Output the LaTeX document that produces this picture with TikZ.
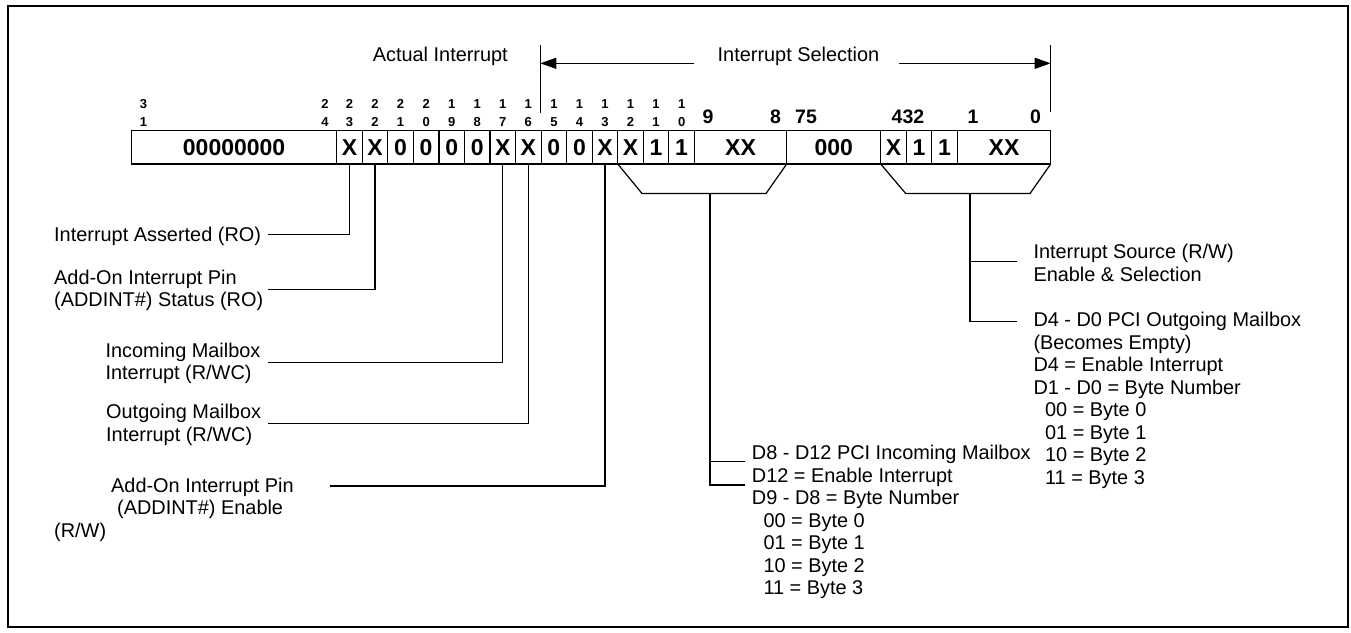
\documentclass[tikz,border=0pt]{standalone}
\usepackage{fontspec}
\setmainfont{Liberation Sans}
\usetikzlibrary{arrows.meta}
\begin{document}
\begin{tikzpicture}[x=1pt,y=-1pt,
  cellbox/.style={draw, line width=1.2pt, minimum height=33.3pt, inner sep=0pt, outer sep=0pt, anchor=west, font=\fontsize{23}{26}\selectfont\bfseries},
  bitnum/.style={font=\fontsize{13}{14}\selectfont\bfseries, inner sep=0pt, anchor=base},
  biglbl/.style={font=\fontsize{19.5}{21}\selectfont\bfseries, inner sep=0pt, anchor=base},
  lbl/.style={font=\fontsize{19.9}{22.5}\selectfont, inner sep=0pt, align=left, anchor=north west},
  toplbl/.style={font=\fontsize{19.9}{22.5}\selectfont, inner sep=0pt},
  conn/.style={line width=1.2pt},
  tip/.style={-{Triangle[length=16pt,width=11pt]}, line width=1.2pt}
]
\useasboundingbox (0,0) rectangle (1351,632);
\draw[line width=2.2pt] (8.3,5.7) rectangle (1348.3,627);

% register cells
\node[cellbox, minimum width=205.2pt] (c31) at (131.5,147.35) {00000000};
\foreach \b/\v [count=\i from 0] in {23/X,22/X,21/0,20/0,19/0,18/0,17/X,16/X,15/0,14/0,13/X,12/X,11/1,10/1}{
  \node[cellbox, minimum width=25.55pt] (c\b) at ({336.7+\i*25.55},147.35) {\v};
}
\node[cellbox, minimum width=92.3pt] (c98) at (694.4,147.35) {XX};
\node[cellbox, minimum width=94pt] (c75) at (786.7,147.35) {000};
\node[cellbox, minimum width=25.55pt] (c4) at (880.7,147.35) {X};
\node[cellbox, minimum width=25.55pt] (c3) at (906.25,147.35) {1};
\node[cellbox, minimum width=25.55pt] (c2) at (931.8,147.35) {1};
\node[cellbox, minimum width=93.35pt] (c10) at (957.35,147.35) {XX};

% bit numbers
\node[bitnum] (h31) at (143.5,108.3) {3};
\node[bitnum] (l31) at (143.5,126) {1};
\node[bitnum] (h24) at (325,108.3) {2};
\node[bitnum] (l24) at (325,126) {4};
\foreach \t/\u [count=\i from 0] in {2/3,2/2,2/1,2/0,1/9,1/8,1/7,1/6,1/5,1/4,1/3,1/2,1/1,1/0}{
  \node[bitnum] (h\i) at ({336.7+(\i+0.5)*25.55},108.3) {\t};
  \node[bitnum] (l\i) at ({336.7+(\i+0.5)*25.55},126) {\u};
}
\node[biglbl] (n9) at (708,123) {9};
\node[biglbl] (n8) at (775.5,123) {8};
\node[biglbl] (n75) at (806,123) {75};
\node[biglbl] (n432) at (908,123) {432};
\node[biglbl] (n1) at (973,123) {1};
\node[biglbl] (n0) at (1035.5,123) {0};

% top labels and arrows
\coordinate (vl1) at (540.3,45);
\coordinate (vl2) at (540.3,113);
\coordinate (vr1) at (1050.7,45);
\coordinate (vr2) at (1050.7,112);
\draw[conn] (vl1) -- (vl2);
\draw[conn] (vr1) -- (vr2);
\node[toplbl, anchor=base east] (actual) at (508,61.5) {Actual Interrupt};
\node[toplbl, anchor=base west] (isel) at (717.5,61.5) {Interrupt Selection};
\coordinate (al) at (694,63.3);
\coordinate (alt) at (540.3,63.3);
\coordinate (ar) at (898.6,63.3);
\coordinate (art) at (1050.7,63.3);
\draw[tip] (al) -- (alt);
\draw[tip] (ar) -- (art);

% left labels
\node[lbl] (t1) at (54,225.85) {\strut Interrupt Asserted (RO)};
\node[lbl] (t2) at (54,268.25) {\strut Add-On Interrupt Pin\\(ADDINT\#) Status (RO)};
\node[lbl] (t3) at (105.4,341.25) {\strut Incoming Mailbox\\Interrupt (R/WC)};
\node[lbl] (t4) at (106,402.75) {\strut Outgoing Mailbox\\Interrupt (R/WC)};
\node[lbl] (t5) at (54,476.25) {\strut\hspace*{57pt}Add-On Interrupt Pin\\\hspace*{63pt}(ADDINT\#) Enable\\(R/W)};

\coordinate (p1) at (267.5,234.6);
\coordinate (p2) at (267.5,289.3);
\coordinate (p3) at (267.5,362.5);
\coordinate (p4) at (267.8,423.3);
\coordinate (p5) at (330,486);
\draw[conn] (c23.south) |- (p1);
\draw[conn] (c22.south) |- (p2);
\draw[conn] (c17.south) |- (p3);
\draw[conn] (c16.south) |- (p4);
\draw[conn] (c13.south) |- (p5);

% trapezoid 1
\coordinate (t1a) at (642,193.5);
\coordinate (t1b) at (766,193.5);
\coordinate (t1m) at (710,193.5);
\coordinate (t1e) at (710,485);
\coordinate (b1a) at (710,461.7);
\coordinate (b1b) at (745,461.7);
\coordinate (b1c) at (745,485);
\draw[conn] (c12.south west) -- (t1a) -- (t1b) -- (c98.south east);
\draw[conn] (t1m) -- (t1e) -- (b1c);
\draw[conn] (b1a) -- (b1b);
\node[lbl] (t6) at (751.7,443.95) {\strut D8 - D12 PCI Incoming Mailbox\\D12 = Enable Interrupt\\D9 - D8 = Byte Number\\\hspace*{11.6pt}00 = Byte 0\\\hspace*{11.6pt}01 = Byte 1\\\hspace*{11.6pt}10 = Byte 2\\\hspace*{11.6pt}11 = Byte 3};

% trapezoid 2
\coordinate (t2a) at (905.7,193.5);
\coordinate (t2b) at (1030,193.5);
\coordinate (t2m) at (970,193.5);
\coordinate (t2e) at (970,321.7);
\coordinate (b2a) at (970,261.7);
\coordinate (b2b) at (1016.7,261.7);
\coordinate (b2c) at (1016.7,321.7);
\draw[conn] (c4.south west) -- (t2a) -- (t2b) -- (c10.south east);
\draw[conn] (t2m) -- (t2e) -- (b2c);
\draw[conn] (b2a) -- (b2b);
\node[lbl] (t7) at (1033.3,242.95) {\strut Interrupt Source (R/W)\\Enable \& Selection};
\node[lbl] (t8) at (1033.3,310.55) {\strut D4 - D0 PCI Outgoing Mailbox\\(Becomes Empty)\\D4 = Enable Interrupt\\D1 - D0 = Byte Number\\\hspace*{11.6pt}00 = Byte 0\\\hspace*{11.6pt}01 = Byte 1\\\hspace*{11.6pt}10 = Byte 2\\\hspace*{11.6pt}11 = Byte 3};
\end{tikzpicture}
\end{document}
